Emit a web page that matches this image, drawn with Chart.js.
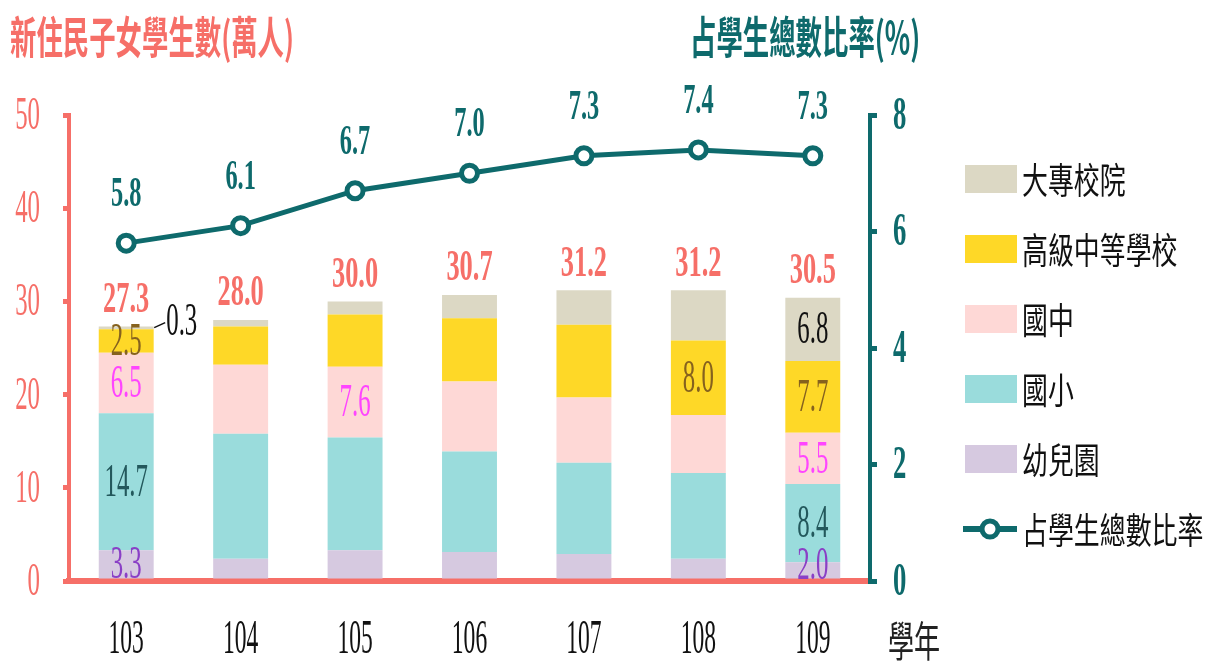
<!DOCTYPE html>
<html>
<head>
<meta charset="utf-8">
<script src="https://cdn.jsdelivr.net/npm/chart.js@4"></script>
<style>
  html, body { margin: 0; padding: 0; background: #fff; }
  canvas { display: block; }
</style>
</head>
<body>
<canvas id="chartStudents" width="1214" height="667"></canvas>
<script>
// 學年
const years = ['103', '104', '105', '106', '107', '108', '109'];
// 新住民子女學生數(萬人), by level
const kinder = [3.3, 2.4, 3.3, 3.1, 2.9, 2.4, 2.0];      // 幼兒園
const elementary = [14.7, 13.4, 12.1, 10.8, 9.8, 9.2, 8.4]; // 國小
const junior = [6.5, 7.4, 7.6, 7.5, 7.0, 6.2, 5.5];      // 國中
const senior = [2.5, 4.1, 5.6, 6.8, 7.8, 8.0, 7.7];      // 高級中等學校
const college = [0.3, 0.7, 1.4, 2.5, 3.7, 5.4, 6.8];     // 大專校院
const totals = [27.3, 28.0, 30.0, 30.7, 31.2, 31.2, 30.5];
// 占學生總數比率(%)
const ratio = [5.8, 6.1, 6.7, 7.0, 7.3, 7.4, 7.3];

const leftTicks = [0, 10, 20, 30, 40, 50];
const rightTicks = [0, 2, 4, 6, 8];

const salmon = '#f66f68';
const teal = '#0e6a6c';
const SERIF = '"Liberation Serif", "Times New Roman", serif';
const CJK = '"Noto Sans CJK TC", "Noto Sans CJK SC", sans-serif';

// which segments get a value printed inside: [dataset index, year index]
const segLabels = [
    [1, 0], [2, 0], [3, 0], [4, 0],
    [3, 2],
    [4, 5],
    [1, 6], [2, 6], [3, 6], [4, 6], [5, 6]
];
const segColors = { 1: '#8a3fc6', 2: '#23585c', 3: '#ff45ff', 4: '#86621e', 5: '#111111' };

// narrow text, the source uses condensed faces
function narrowText(ctx, text, x, y, font, color, sx, align) {
    ctx.save();
    ctx.translate(x, y);
    ctx.scale(sx, 1);
    ctx.font = font;
    ctx.fillStyle = color;
    ctx.textAlign = align || 'center';
    ctx.textBaseline = 'middle';
    ctx.fillText(text, 0, 0);
    ctx.restore();
}

const textPlugin = {
    id: 'textPlugin',
    afterDraw(chart) {
        const ctx = chart.ctx;
        const ds = chart.data.datasets;
        const sx = chart.scales.x, sy = chart.scales.y, sy1 = chart.scales.y1;

        // titles
        narrowText(ctx, '新住民子女學生數(萬人)', 10, 37, 'bold 44px ' + CJK, salmon, 0.6, 'left');
        narrowText(ctx, '占學生總數比率(%)', 690, 37, 'bold 44px ' + CJK, teal, 0.6, 'left');

        // axis tick labels
        sy.ticks.forEach((t, i) => {
            narrowText(ctx, String(t.value), 40, sy.getPixelForTick(i) + 2, '46px ' + SERIF, salmon, 0.54, 'right');
        });
        sy1.ticks.forEach((t, i) => {
            narrowText(ctx, String(t.value), 893, sy1.getPixelForTick(i) + 2, 'bold 46px ' + SERIF, teal, 0.58, 'left');
        });
        sx.ticks.forEach((t, i) => {
            narrowText(ctx, years[i], sx.getPixelForTick(i), 640, '48px ' + SERIF, '#111', 0.49);
        });
        narrowText(ctx, '學年', 888, 641, '42px ' + CJK, '#222', 0.62, 'left');

        // values inside bars
        segLabels.forEach(([d, i]) => {
            const el = chart.getDatasetMeta(d).data[i];
            let y = (el.y + el.base) / 2 + 2;
            if (d === 1 && i === 6) y -= 6;
            narrowText(ctx, ds[d].data[i].toFixed(1), el.x, y, '46px ' + SERIF, segColors[d], 0.54);
        });
        // 0.3 of 103 sits outside, with a leader line
        {
            const el = chart.getDatasetMeta(5).data[0];
            ctx.save();
            ctx.strokeStyle = '#111';
            ctx.lineWidth = 1.5;
            ctx.beginPath();
            ctx.moveTo(el.x + 28, el.y + 1);
            ctx.lineTo(el.x + 39, el.y - 4);
            ctx.stroke();
            ctx.restore();
            narrowText(ctx, ds[5].data[0].toFixed(1), el.x + 40, el.y - 4, '46px ' + SERIF, '#111', 0.54, 'left');
        }

        // totals above bars
        const topMeta = chart.getDatasetMeta(5);
        totals.forEach((v, i) => {
            const el = topMeta.data[i];
            narrowText(ctx, v.toFixed(1), el.x, el.y - 26, 'bold 44px ' + SERIF, salmon, 0.6);
        });

        // ratio labels above points
        chart.getDatasetMeta(0).data.forEach((pt, i) => {
            narrowText(ctx, ratio[i].toFixed(1), pt.x, pt.y - 48, 'bold 42px ' + SERIF, teal, 0.58);
        });

        // legend on the right
        const order = [5, 4, 3, 2, 1, 0];
        order.forEach((d, k) => {
            const cy = 179 + k * 70;
            if (ds[d].type === 'line') {
                ctx.save();
                ctx.strokeStyle = ds[d].borderColor;
                ctx.lineWidth = 6;
                ctx.beginPath();
                ctx.moveTo(963, cy);
                ctx.lineTo(1017, cy);
                ctx.stroke();
                ctx.fillStyle = '#fff';
                ctx.lineWidth = 5;
                ctx.beginPath();
                ctx.arc(990, cy, 8, 0, Math.PI * 2);
                ctx.fill();
                ctx.stroke();
                ctx.restore();
            } else {
                ctx.fillStyle = ds[d].backgroundColor;
                ctx.fillRect(965, cy - 14, 52, 28);
            }
            narrowText(ctx, ds[d].label, 1022, cy + 1, '36px ' + CJK, '#111', 0.72, 'left');
        });
    }
};

function noPad(s) {
    s.paddingLeft = 0;
    s.paddingRight = 0;
    s.paddingTop = 0;
    s.paddingBottom = 0;
}

const ctxStudents = document.getElementById('chartStudents');
const chartStudents = new Chart(ctxStudents, {
    type: 'bar',
    data: {
        labels: years,
        datasets: [{
            type: 'line',
            label: '占學生總數比率',
            data: ratio,
            yAxisID: 'y1',
            order: 0,
            borderColor: teal,
            borderWidth: 5,
            pointRadius: 8,
            pointBorderWidth: 5,
            pointBackgroundColor: '#ffffff',
            pointBorderColor: teal,
            tension: 0
        }, {
            label: '幼兒園',
            data: kinder,
            backgroundColor: '#d6c9e0',
            order: 1
        }, {
            label: '國小',
            data: elementary,
            backgroundColor: '#9adcdc',
            order: 1
        }, {
            label: '國中',
            data: junior,
            backgroundColor: '#fed8d6',
            order: 1
        }, {
            label: '高級中等學校',
            data: senior,
            backgroundColor: '#fed827',
            order: 1
        }, {
            label: '大專校院',
            data: college,
            backgroundColor: '#dcd8c4',
            order: 1
        }]
    },
    options: {
        responsive: false,
        animation: false,
        devicePixelRatio: 1,
        layout: { padding: { top: 115, left: 0, right: 0, bottom: 0 } },
        plugins: {
            legend: { display: false },
            tooltip: { enabled: false }
        },
        datasets: {
            bar: { barPercentage: 0.48, categoryPercentage: 1 }
        },
        scales: {
            x: {
                stacked: true,
                z: 1,
                grid: { display: false },
                border: { color: salmon, width: 6 },
                ticks: { color: 'transparent' },
                afterFit: s => { s.height = 86; noPad(s); }
            },
            y: {
                stacked: true,
                position: 'left',
                min: 0,
                max: 50,
                afterBuildTicks: s => { s.ticks = leftTicks.map(v => ({ value: v })); },
                ticks: { color: 'transparent' },
                grid: { drawOnChartArea: false, color: salmon, lineWidth: 5, tickLength: 6 },
                border: { color: salmon, width: 4 },
                afterFit: s => { s.width = 69; noPad(s); }
            },
            y1: {
                position: 'right',
                min: 0,
                max: 8,
                afterBuildTicks: s => { s.ticks = rightTicks.map(v => ({ value: v })); },
                ticks: { color: 'transparent' },
                grid: { drawOnChartArea: false, color: teal, lineWidth: 5, tickLength: 7 },
                border: { color: teal, width: 4 },
                afterFit: s => { s.width = 344; noPad(s); }
            }
        }
    },
    plugins: [textPlugin]
});
</script>
</body>
</html>
